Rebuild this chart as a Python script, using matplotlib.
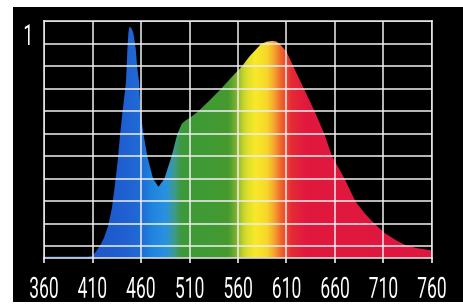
import numpy as np
import matplotlib
matplotlib.use("Agg")
import matplotlib.pyplot as plt
from matplotlib.colors import LinearSegmentedColormap
from matplotlib.patches import Rectangle, Polygon
from matplotlib.patheffects import AbstractPathEffect
from matplotlib.transforms import Affine2D

# spectrum (relative intensity, 1 = top line)
wavelength = [360, 405, 410, 414, 418, 422, 426, 430, 433, 436, 438.5, 441,
              444.5, 446, 447, 448, 450, 452, 454.5, 456, 458, 459.5, 462.5,
              466.5, 472.5, 478, 484, 491.5, 497.5, 502, 506, 510, 519, 531,
              542.5, 553, 564, 572, 584, 590, 595.5, 600, 604, 610, 617, 628,
              639, 649, 657, 670, 681, 691, 701, 711, 722, 733, 745, 758, 760]
intensity = [-0.045, -0.045, -0.042, -0.02, 0.005, 0.04, 0.09, 0.17, 0.27,
             0.38, 0.5, 0.6, 0.73, 0.88, 0.95, 0.976, 0.97, 0.95, 0.88, 0.80,
             0.73, 0.6, 0.5, 0.4, 0.3, 0.265, 0.30, 0.4, 0.5, 0.545, 0.56,
             0.57, 0.60, 0.65, 0.70, 0.75, 0.80, 0.845, 0.90, 0.91, 0.913,
             0.91, 0.895, 0.865, 0.80, 0.70, 0.60, 0.50, 0.40, 0.30, 0.20,
             0.145, 0.10, 0.06, 0.03, 0.005, -0.008, -0.016, -0.02]

x_ticks = [360, 410, 460, 510, 560, 610, 660, 710, 760]
y_grid = [0.0, 0.1, 0.2, 0.3, 0.4, 0.5, 0.6, 0.7, 0.8, 0.9, 1.0]

# colour of the light at each wavelength
spec_nodes = [360, 410, 440, 460, 472, 486, 494, 502, 550, 558, 568, 578,
              590, 598, 606, 616, 630, 760]
spec_colors = ["#1a4fbf", "#1d58c8", "#1f5fd0", "#206cd6", "#1f86df",
               "#2a93df", "#3f9a8a", "#3c9a38", "#459a30", "#7fb02e",
               "#d8dc2c", "#f7ea28", "#f8d62a", "#f4a02e", "#ee5a2a",
               "#e52a36", "#e1193e", "#df173f"]


class Squeeze(AbstractPathEffect):
    """narrow the glyphs around their centre (condensed display font look)"""
    def __init__(self, sx):
        super().__init__()
        self.sx = sx

    def draw_path(self, renderer, gc, tpath, affine, rgbFace=None):
        ext = tpath.get_extents()
        cx = (ext.x0 + ext.x1) / 2
        t = Affine2D().translate(-cx, 0).scale(self.sx, 1).translate(cx, 0) + affine
        renderer.draw_path(gc, tpath, t, rgbFace)


W, H = 463, 305
fig = plt.figure(figsize=(W / 100, H / 100), dpi=100, facecolor="white")
fig.add_artist(Rectangle((13 / W, 3 / H), (W - 13) / W, (H - 10) / H,
                         transform=fig.transFigure, facecolor="black",
                         edgecolor="none", zorder=0))

ax = fig.add_axes([44 / W, (H - 257.7) / H, 388 / W, 236.4 / H])
ax.set_facecolor("black")
ax.set_xlim(360, 760)
ax.set_ylim(-0.05, 1.0)

lo, hi = spec_nodes[0], spec_nodes[-1]
cmap = LinearSegmentedColormap.from_list(
    "spec", [((n - lo) / (hi - lo), c) for n, c in zip(spec_nodes, spec_colors)])
grad = np.linspace(0, 1, 800).reshape(1, -1)
im = ax.imshow(grad, cmap=cmap, extent=[360, 760, -0.05, 1.0],
               aspect="auto", origin="lower", zorder=1, interpolation="bilinear")
verts = list(zip(wavelength, intensity)) + [(760, -0.05), (360, -0.05)]
clip = Polygon(verts, closed=True, transform=ax.transData, facecolor="none",
               edgecolor="none")
ax.add_patch(clip)
im.set_clip_path(clip)

ax.set_xticks(x_ticks)
ax.set_xticklabels([str(t) for t in x_ticks])
ax.set_yticks(y_grid)
ax.set_yticklabels([])
ax.grid(True, color="#eeeeee", linewidth=1.1)
ax.set_axisbelow(False)
for gl in ax.get_xgridlines() + ax.get_ygridlines():
    gl.set_zorder(3)
ax.tick_params(axis="y", length=0)
ax.tick_params(axis="x", colors="white", length=3.5, width=1.1, pad=9.5,
               labelsize=21)
for lab in ax.get_xticklabels():
    lab.set_family(["Roboto", "DejaVu Sans"])
    lab.set_path_effects([Squeeze(0.6)])
for s in ax.spines.values():
    s.set_color("#eeeeee")
    s.set_linewidth(1.1)
    s.set_zorder(4)

one = fig.text(29 / W, (H - 37) / H, "1", color="white", fontsize=21,
               ha="center", va="center", family=["Roboto", "DejaVu Sans"])
one.set_path_effects([Squeeze(0.6)])

fig.savefig("out.png", dpi=100, facecolor="white")
